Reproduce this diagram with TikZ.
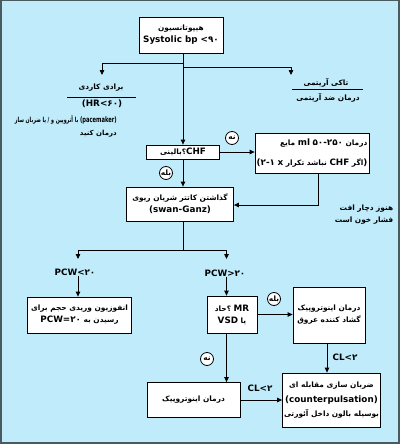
\documentclass[tikz,border=0pt]{standalone}
\usepackage{fontspec}
\setmainfont{DejaVu Sans}
\newfontfamily\arfont[Script=Arabic]{DejaVu Sans}
\TeXXeTstate=1
\usetikzlibrary{arrows.meta}
\definecolor{bgblue}{HTML}{BFEBFB}
\definecolor{framegray}{HTML}{4A5A5F}
\newcommand{\arf}{\arfont\bfseries\fontsize{7.4}{12}\selectfont}
\newcommand{\arfs}{\arfont\bfseries\fontsize{7}{12}\selectfont}
\newcommand{\ltf}{\bfseries\fontsize{8.8}{12}\selectfont}
\newcommand{\ltfs}{\bfseries\fontsize{7.6}{12}\selectfont}
\newcommand{\dgf}{\arfont\bfseries\fontsize{8.8}{12}\selectfont}
\newcommand{\RR}[1]{\beginR #1\endR}
\newcommand{\LL}[1]{\beginL #1\endL}
\lineskiplimit=-100pt
\tikzset{
  box/.style={draw=black, fill=white, line width=0.8pt, inner sep=0pt, align=center, font=\fontsize{8}{12}\selectfont},
  txt/.style={inner sep=0pt, align=center, font=\fontsize{8}{12}\selectfont},
  circ/.style={draw=black, fill=white, circle, line width=0.8pt, minimum size=13pt, inner sep=0pt},
  conn/.style={line width=0.8pt, draw=black},
  arr/.style={conn, -{Triangle[length=5pt,width=4.5pt]}},
}
\begin{document}
\begin{tikzpicture}[x=1pt,y=-1pt]
\fill[framegray] (0,0) rectangle (400,444);
\fill[bgblue] (2,1.5) rectangle (398,442);
\useasboundingbox (0,0) rectangle (400,444);

% nodes
\node[box, minimum width=84pt, minimum height=36pt] (hypo) at (181,35)
  {{\arf\RR{هیپوتانسیون}}\\{\ltf Systolic bp <}{\dgf ۹۰}};
\node[txt] (bradyT) at (101,88) {{\arf\RR{برادی کاردی}}};
\node[txt] (hr) at (102,104) {{\ltf (HR<}{\dgf ۶۰}{\ltf )}};
\node[txt, align=right, anchor=north east] (pace) at (117,116)
  {\resizebox{102pt}{\height}{{\arfs\RR{با آتروپین و / یا ضربان ساز}} {\ltfs (pacemaker)}}\\[1pt]{\arfs\RR{درمان کنید}}};
\node[txt] (tachyT) at (326,83) {{\arf\RR{تاکی آریتمی}}};
\node[txt] (tachyB) at (328,98) {{\arf\RR{درمان ضد آریتمی}}};

\node[box, minimum width=73pt, minimum height=14pt] (chf) at (183,152)
  {{\arf بالینی}\kern0pt{\arf ؟}{\ltf CHF}};
\node[box, minimum width=114pt, minimum height=40pt, align=right] (fluid) at (312,153)
  {\RR{{\arf درمان} \LL{{\ltf ml} {\dgf ۵۰-۲۵۰}} {\arf مایع}}\\[8pt]{\ltf (}{\dgf ۲-۱} {\ltf x} {\arf\RR{نباشد تکرار}} {\ltf CHF} {\arf اگر}{\ltf )}};
\node[circ] (no1) at (232,138) {{\arf نه}};
\node[box, minimum width=107pt, minimum height=34pt] (swan) at (180,204)
  {{\arf\RR{گذاشتن کاتتر شریان ریوی}}\\{\ltf (swan-Ganz)}};
\node[circ] (yes1) at (166,173) {{\arf بله}};
\node[txt, align=right] (hyp) at (364,215) {{\arf\RR{هنوز دچار افت}}\\{\arf\RR{فشار خون است}}};

\node[txt] (pcwL) at (75,272) {{\ltf PCW<}{\dgf ۲۰}};
\node[txt] (pcwR) at (225,273) {{\ltf PCW>}{\dgf ۲۰}};
\node[box, minimum width=104pt, minimum height=36pt] (vol) at (79.5,315)
  {{\arf\RR{انفوزیون وریدی حجم برای}}\\\RR{{\arf رسیدن به} \LL{{\ltf PCW=}{\dgf ۲۰}}}};
\node[box, minimum width=50pt, minimum height=37pt] (mr) at (232,314.5)
  {{\arf حاد}\kern0pt{\arf ؟} {\ltf MR}\\{\ltf VSD} {\arf یا}};
\node[box, minimum width=72pt, minimum height=56pt] (ivaso) at (329,315)
  {{\arf\RR{درمان اینوتروپیک}}\\{\arf\RR{گشاد کننده عروق}}};
\node[circ] (yes2) at (274,299) {{\arf بله}};
\node[box, minimum width=93pt, minimum height=35pt] (ino) at (193.5,400)
  {{\arf\RR{درمان اینوتروپیک}}};
\node[circ] (no2) at (207,359) {{\arf نه}};
\node[box, minimum width=98pt, minimum height=54pt] (cp) at (331.5,400)
  {{\arf\RR{ضربان سازی مقابله ای}}\\[3pt]{\ltf (counterpulsation)}\\[2pt]{\arf\RR{بوسیله بالون داخل آئورتی}}};
\node[txt] (clB) at (260,388) {{\ltf CL<}{\dgf ۲}};
\node[txt] (clR) at (345,357) {{\ltf CL<}{\dgf ۲}};

% text rules
\draw[line width=0.8pt] (67,97) -- (136,97);
\draw[line width=0.8pt] (292,89) -- (363,89);

% coordinates
\coordinate (jL) at (183,63);
\coordinate (jR) at (183,67);
\coordinate (brA) at (102,75);
\coordinate (taA) at (291,75);
\coordinate (fb) at (318,205);
\coordinate (bj) at (183,250);
\coordinate (plT) at (78,259);
\coordinate (prT) at (226.5,259);
\coordinate (cv) at (327,360);

% connectors
\draw[arr] (chf.north |- hypo.south) -- (chf.north);
\draw[arr] (jL) -| (brA);
\draw[arr] (jR) -| (taA);
\draw[arr] (chf.east) -- (chf.east -| fluid.west);
\draw[arr] (fluid.south -| fb) -- (fb) -- (fb -| swan.east);
\draw[arr] (chf.south) -- (chf.south |- swan.north);
\draw[conn] (swan.south -| bj) -- (bj);
\draw[arr] (bj) -| (plT);
\draw[arr] (bj) -| (prT);
\draw[arr] (pcwL.south -| plT) -- (vol.north -| plT);
\draw[arr] (pcwR.south -| prT) -- (mr.north -| prT);
\draw[arr] (mr.east) -- (mr.east -| ivaso.west);
\draw[arr] (mr.south -| prT) -- (ino.north -| prT);
\draw[arr] (ino.east) -- (ino.east -| cp.west);
\draw[arr] (ivaso.south -| cv) -- (cp.north -| cv);
\end{tikzpicture}
\end{document}
